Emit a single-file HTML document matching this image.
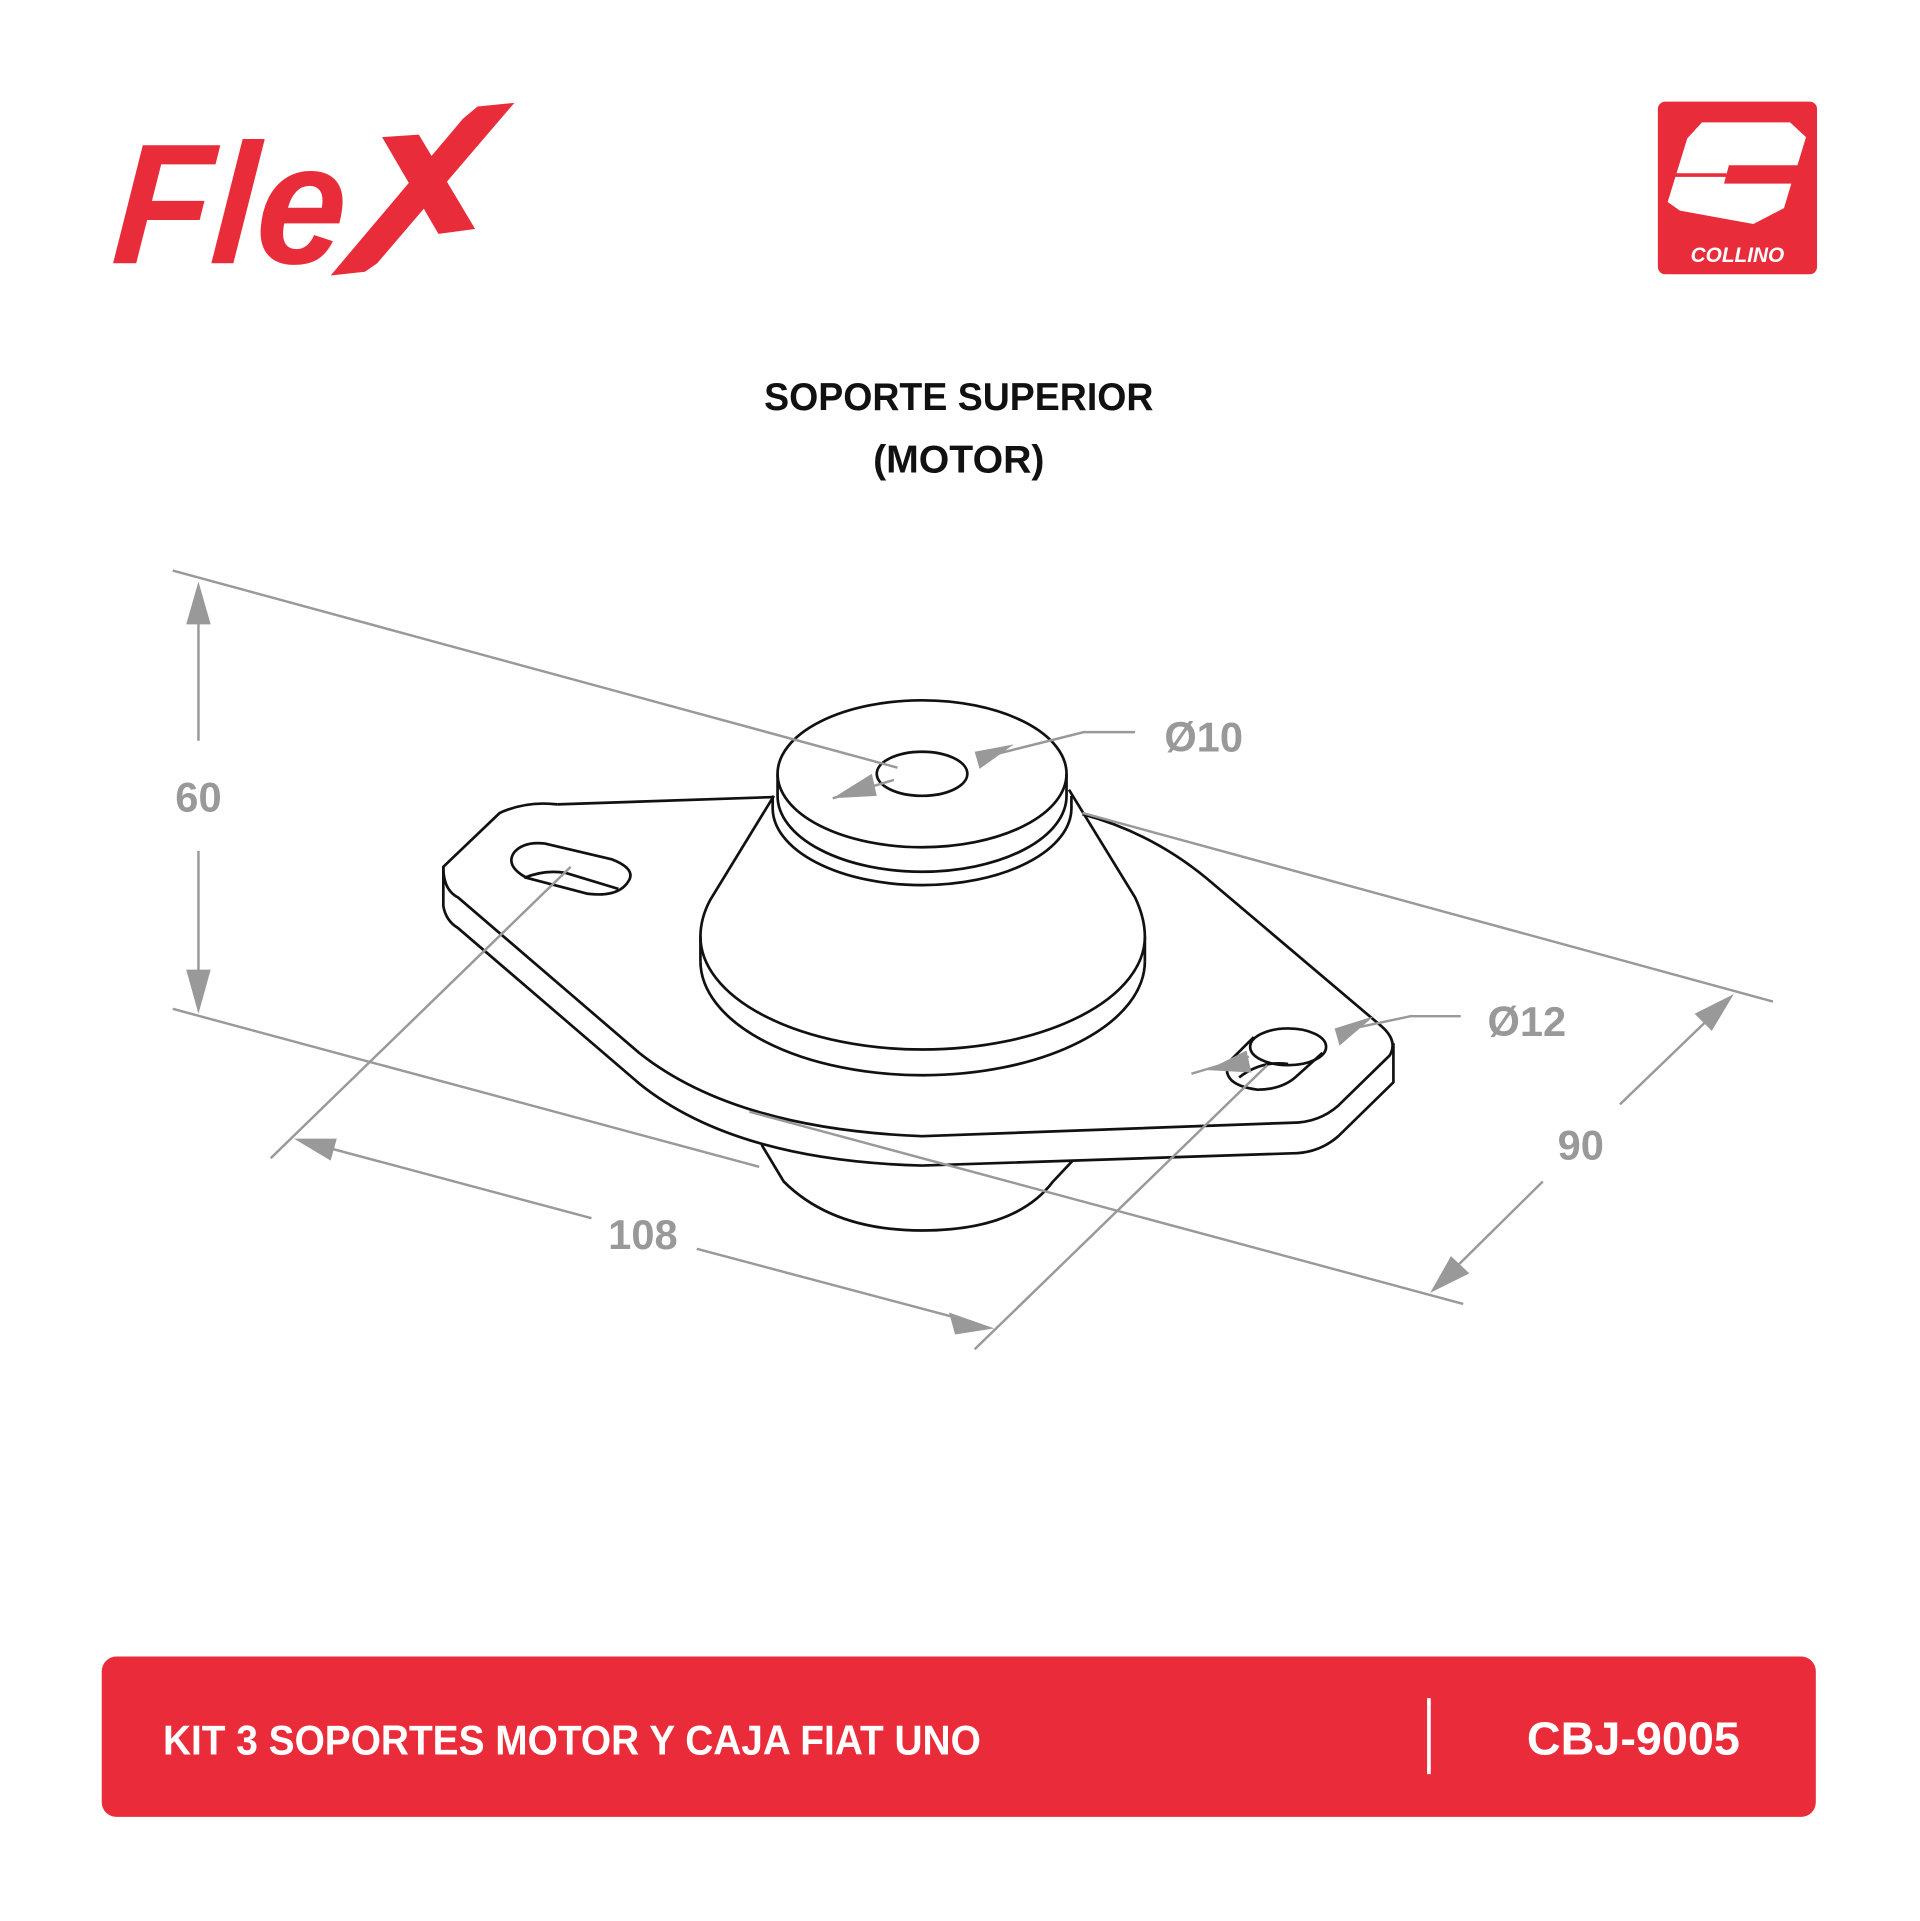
<!DOCTYPE html>
<html><head><meta charset="utf-8"><style>
html,body{margin:0;padding:0;background:#fff;}
svg{display:block;}
text{font-family:"Liberation Sans",sans-serif;font-weight:bold;}
</style></head><body>
<svg width="1920" height="1921" viewBox="0 0 1568 1569" xmlns="http://www.w3.org/2000/svg">
<rect width="1568" height="1569" fill="#fff"/>
<!-- Flex logo -->
<g fill="#e92c3a">
<text x="105" y="215" font-size="140" font-style="italic" textLength="190" lengthAdjust="spacingAndGlyphs" transform="skewX(-4)">Fle</text>
<polygon points="390,87 420,84 308,215 298,222 270,225 378,97"/>
<polygon points="312,112 342,110 388,187 358,191"/>
</g>
<!-- Collino logo -->
<rect x="1354" y="83" width="130" height="141" rx="6" fill="#e92c3a"/>
<polygon fill="#fff" points="1390,100 1462,100 1475,112 1468,135 1412,135 1408,150 1463,150 1457,170 1432,183 1372,172 1362,165 1378,113"/>
<line x1="1365" y1="143" x2="1410" y2="143" stroke="#e92c3a" stroke-width="3"/>
<text x="1419" y="214" font-size="17" font-style="italic" fill="#fff" text-anchor="middle">COLLINO</text>
<!-- Title -->
<text x="783" y="335" font-size="32" text-anchor="middle" fill="#111" textLength="318" lengthAdjust="spacingAndGlyphs">SOPORTE SUPERIOR</text>
<text x="783" y="386" font-size="32" text-anchor="middle" fill="#111" textLength="140" lengthAdjust="spacingAndGlyphs">(MOTOR)</text>
<!-- part -->
<g stroke="#111" stroke-width="2.2" fill="none" stroke-linejoin="round">
<path d="M455,657 Q430,654 408,664 L362,708 Q362,727 374,733 L522,860 Q600,922 753,928 L1055,917 Q1077,917 1093,903 L1135,862 Q1142,850 1128,838 L985,717 Q940,680 884,665"/>
<line x1="455" y1="657" x2="632" y2="651"/>
<path d="M362,708 L362,740 Q364,752 374,758 L522,885 Q600,948 753,952 L1055,942 Q1077,942 1093,928 L1138,884 L1138,852"/>
<path d="M622,935 L640,965 Q680,1005 753,1005 Q830,1005 860,965 L876,948"/>
<path d="M445,689 L500,702 Q520,710 513,720 Q505,733 480,730 L430,717 Q412,707 420,696 Q428,687 445,689 Z"/>
<path d="M428,717 Q445,710 462,713 L505,726"/>
<ellipse cx="1052" cy="855" rx="31" ry="15"/>
<path d="M1024,847 L1003,868 Q997,886 1027,890 Q1048,890 1060,878 L1080,860"/>
<path d="M1012,880 Q1030,866 1052,869"/>
<path d="M632,650 L580,735 Q572,750 572,765 L572,785"/>
<path d="M873,645 L927,733 Q935,750 935,765 L935,785"/>
<path d="M572,765 A181,92 0 0 0 935,765"/>
<path d="M572,785 A181,93 0 0 0 935,785"/>
<path d="M635,632 L635,650 A118,62 0 0 0 871,650 L871,632"/>
<path d="M631,650 L631,660 A122,63 0 0 0 875,660 L875,650"/>
<ellipse cx="753" cy="632" rx="118" ry="60"/>
<ellipse cx="753" cy="632" rx="37" ry="18"/>
</g>
<!-- dimensions -->
<g stroke="#999" stroke-width="2" fill="none">
<line x1="141" y1="466" x2="733" y2="627"/>
<line x1="141" y1="824" x2="620" y2="953"/>
<line x1="884" y1="664" x2="1448" y2="818"/>
<line x1="612" y1="908" x2="1195" y2="1065"/>
<line x1="162" y1="490" x2="162" y2="605"/>
<line x1="162" y1="695" x2="162" y2="812"/>
<line x1="221" y1="946" x2="466" y2="708"/>
<line x1="796" y1="1102" x2="1035" y2="870"/>
<line x1="255" y1="934" x2="483" y2="995"/>
<line x1="569" y1="1020" x2="795" y2="1080"/>
<line x1="1180" y1="1044" x2="1260" y2="965"/>
<line x1="1323" y1="902" x2="1405" y2="823"/>
<polyline points="680,652 730,637"/>
<polyline points="805,618 885,598 927,598"/>
<polyline points="973,877 1020,863"/>
<polyline points="1105,840 1152,830 1193,830"/>
</g>
<g fill="#999">
<polygon points="162,475 152,510 172,510"/>
<polygon points="162,828 152,792 172,792"/>
<polygon points="240,930 275,930 270,948"/>
<polygon points="812,1085 775,1072 780,1090"/>
<polygon points="1168,1056 1200,1040 1185,1026"/>
<polygon points="1416,812 1384,828 1398,842"/>
<polygon points="680,652 712,632 716,650"/>
<polygon points="828,608 796,614 800,628"/>
<polygon points="986,874 1018,858 1022,876"/>
<polygon points="1122,830 1090,840 1094,854"/>
</g>
<g fill="#999" font-size="34">
<text x="162" y="663" text-anchor="middle">60</text>
<text x="525" y="1020" text-anchor="middle">108</text>
<text x="1291" y="947" text-anchor="middle">90</text>
<text x="983" y="614" text-anchor="middle">Ø10</text>
<text x="1247" y="846" text-anchor="middle">Ø12</text>
</g>
<!-- bottom bar -->
<rect x="83" y="1353" width="1400" height="131" rx="12" fill="#ea2c3a"/>
<text x="133" y="1433" font-size="34" fill="#fff" textLength="668" lengthAdjust="spacingAndGlyphs">KIT 3 SOPORTES MOTOR Y CAJA FIAT UNO</text>
<line x1="1167" y1="1387" x2="1167" y2="1449" stroke="#fff" stroke-width="3"/>
<text x="1334" y="1433" font-size="38" fill="#fff" text-anchor="middle" textLength="174" lengthAdjust="spacingAndGlyphs">CBJ-9005</text>
</svg>
</body></html>
